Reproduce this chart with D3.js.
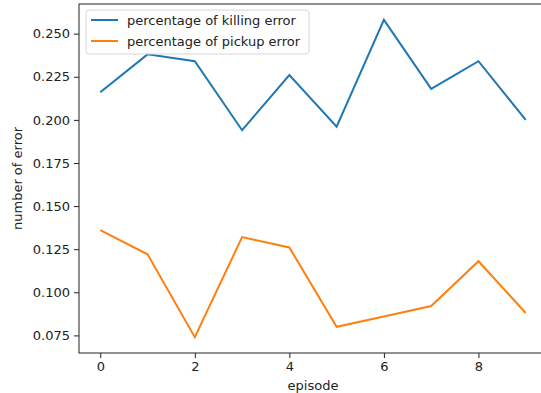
<!DOCTYPE html>
<meta charset="utf-8">
<head>
  <style>
    body { margin: 0; background: #fff; }
    text { font-family: "DejaVu Sans", sans-serif; fill: #222; }
  </style>
</head>
<body>
<div id="my_dataviz"></div>
<script src="https://d3js.org/d3.v7.min.js"></script>
<script>

// episodes and the two error series
var episodes = [0, 1, 2, 3, 4, 5, 6, 7, 8, 9];
var killing = [0.216, 0.238, 0.234, 0.194, 0.226, 0.196, 0.258, 0.218, 0.234, 0.200];
var pickup  = [0.136, 0.122, 0.074, 0.132, 0.126, 0.080, 0.086, 0.092, 0.118, 0.088];
var xTicks = [0, 2, 4, 6, 8];
var yTicks = [0.075, 0.100, 0.125, 0.150, 0.175, 0.200, 0.225, 0.250];
var seriesNames = ["percentage of killing error", "percentage of pickup error"];
var colors = ["#1f77b4", "#ff7f0e"];

// set the dimensions and margins of the graph
var margin = {top: 4, right: -6, bottom: 40, left: 79},
    width = 541 - margin.left - margin.right,
    height = 393 - margin.top - margin.bottom;

var svg = d3.select("#my_dataviz")
  .append("svg")
    .attr("width", 541)
    .attr("height", 393)
  .append("g")
    .attr("transform", "translate(" + margin.left + "," + margin.top + ")");

// matplotlib style 5% padding on each side
var xPad = (d3.max(episodes) - d3.min(episodes)) * 0.05;
var x = d3.scaleLinear()
  .domain([d3.min(episodes) - xPad, d3.max(episodes) + xPad])
  .range([0, width]);

var allVals = killing.concat(pickup);
var yMin = d3.min(allVals), yMax = d3.max(allVals);
var yPad = (yMax - yMin) * 0.05;
var y = d3.scaleLinear()
  .domain([yMin - yPad, yMax + yPad])
  .range([height, 0]);

// X axis
var xAxis = svg.append("g")
  .attr("transform", "translate(0," + height + ")")
  .call(d3.axisBottom(x).tickValues(xTicks).tickFormat(d3.format("d")).tickSize(5).tickPadding(4));

// Y axis
var yAxis = svg.append("g")
  .call(d3.axisLeft(y).tickValues(yTicks).tickFormat(d3.format(".3f")).tickSize(5).tickPadding(4));

[xAxis, yAxis].forEach(function(a) {
  a.select(".domain").remove();
  a.selectAll(".tick line").attr("stroke", "#222").attr("stroke-width", 1);
  a.selectAll(".tick text").style("font-size", "13px").attr("fill", "#222");
});

// frame
svg.append("rect")
  .attr("x", 0).attr("y", 0)
  .attr("width", width).attr("height", height)
  .attr("fill", "none")
  .attr("stroke", "#222")
  .attr("stroke-width", 1);

// lines
var line = d3.line()
  .x(function(d, i) { return x(episodes[i]); })
  .y(function(d) { return y(d); });

[killing, pickup].forEach(function(s, i) {
  svg.append("path")
    .datum(s)
    .attr("d", line)
    .attr("fill", "none")
    .attr("stroke", colors[i])
    .attr("stroke-width", 2)
    .attr("stroke-linejoin", "miter");
});

// axis labels
svg.append("text")
  .attr("x", width / 2 + 0)
  .attr("y", height + 37)
  .attr("text-anchor", "middle")
  .style("font-size", "13px")
  .text("episode");

svg.append("text")
  .attr("transform", "rotate(-90)")
  .attr("x", -height / 2)
  .attr("y", -57)
  .attr("text-anchor", "middle")
  .style("font-size", "13px")
  .text("number of error");

// legend
var legend = svg.append("g").attr("transform", "translate(7,6)");
legend.append("rect")
  .attr("width", 223).attr("height", 44)
  .attr("rx", 3)
  .attr("fill", "#fff").attr("fill-opacity", 0.8)
  .attr("stroke", "#d6d6d6");

seriesNames.forEach(function(n, i) {
  var ly = 10 + i * 21;
  legend.append("line")
    .attr("x1", 5).attr("x2", 32)
    .attr("y1", ly).attr("y2", ly)
    .attr("stroke", colors[i]).attr("stroke-width", 2);
  legend.append("text")
    .attr("x", 41).attr("y", ly)
    .attr("dy", "0.35em")
    .style("font-size", "13px")
    .text(n);
});

</script>
</body>
